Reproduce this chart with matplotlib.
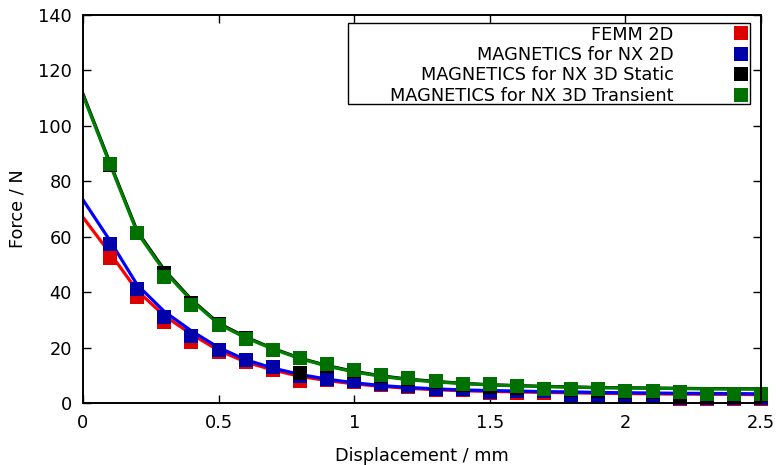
import matplotlib
matplotlib.use("Agg")
import matplotlib.pyplot as plt
from matplotlib.lines import Line2D
from matplotlib.patches import Rectangle
import numpy as np

# marker data (displacement in mm, force in N)
x_pts = [0.1, 0.2, 0.3, 0.4, 0.5, 0.6, 0.7, 0.8, 0.9, 1.0, 1.1, 1.2, 1.3,
         1.4, 1.5, 1.6, 1.7, 1.8, 1.9, 2.0, 2.1, 2.2, 2.3, 2.4, 2.5]
femm2d = [52.3, 38.3, 29.1, 22.0, 18.4, 14.8, 12.0, 8.0, 8.3, 7.4, 6.5, 5.6, 4.7,
          4.7, 3.7, 3.7, 3.7, 2.6, 2.7, 2.7, 2.7, 1.6, 1.6, 1.6, 1.6]
mag2d = [57.2, 41.1, 30.9, 24.0, 19.1, 15.5, 13.0, 9.6, 8.8, 7.8, 6.9, 6.0, 5.0,
         5.0, 4.0, 4.2, 4.2, 3.0, 3.0, 3.0, 3.0, 1.9, 1.9, 1.9, 1.9]
mag3d_static = [86.0, 61.5, 47.0, 36.0, 28.5, 23.3, 19.3, 10.8, 13.5, 11.5, 9.8, 8.8, 7.6,
                6.6, 5.8, 5.4, 4.9, 4.6, 4.3, 3.8, 3.8, 2.4, 2.8, 2.8, 2.8]
mag3d_trans = [86.2, 61.3, 45.5, 35.4, 28.1, 23.1, 19.1, 16.1, 14.0, 12.0, 10.1, 9.2, 8.0,
               7.0, 7.0, 6.0, 5.2, 5.2, 5.0, 4.2, 4.2, 4.1, 3.2, 3.2, 3.2]

# curve data
x_line = [0.0, 0.1, 0.2, 0.3, 0.4, 0.5, 0.6, 0.7, 0.8, 0.9, 1.0, 1.1, 1.2, 1.3,
          1.4, 1.5, 1.6, 1.7, 1.8, 1.9, 2.0, 2.1, 2.2, 2.3, 2.4, 2.5]
femm2d_line = [67.0, 54.0, 40.5, 31.5, 24.8, 19.0, 14.8, 11.9, 9.6, 8.1, 6.9, 6.0, 5.3, 4.8,
               4.4, 4.2, 4.0, 3.8, 3.7, 3.5, 3.4, 3.3, 3.2, 3.15, 3.1, 3.0]
mag2d_line = [73.3, 58.5, 42.6, 33.0, 26.0, 20.0, 15.6, 12.6, 10.3, 8.6, 7.3, 6.3, 5.6, 5.1,
              4.7, 4.5, 4.3, 4.1, 4.0, 3.8, 3.7, 3.6, 3.5, 3.45, 3.4, 3.3]
mag3d_static_line = [111.5, 86.5, 62.0, 48.0, 37.3, 28.8, 23.8, 19.7, 16.2, 13.5, 11.4, 9.8, 8.6,
                     7.8, 7.1, 6.6, 6.3, 6.0, 5.8, 5.6, 5.5, 5.4, 5.3, 5.2, 5.15, 5.1]
mag3d_trans_line = [111.0, 86.0, 61.5, 47.5, 37.0, 28.5, 23.5, 19.5, 16.0, 13.3, 11.2, 9.6, 8.4,
                    7.6, 7.0, 6.5, 6.2, 5.9, 5.7, 5.5, 5.4, 5.3, 5.2, 5.1, 5.05, 5.0]

labels = ["FEMM 2D", "MAGNETICS for NX 2D", "MAGNETICS for NX 3D Static",
          "MAGNETICS for NX 3D Transient"]
line_colors = ["#ff0000", "#0000ff", "#000000", "#008000"]
marker_colors = ["#dd0000", "#0000aa", "#000000", "#007000"]

FS = 12.8
plt.rcParams['font.family'] = ['DejaVu Sans']
W, H = 776, 465
fig = plt.figure(figsize=(W / 100, H / 100), dpi=100)
ax = fig.add_axes([83 / W, 62 / H, 678 / W, 388 / H])

series_pts = [femm2d, mag2d, mag3d_static, mag3d_trans]
series_lines = [femm2d_line, mag2d_line, mag3d_static_line, mag3d_trans_line]

for i in range(4):
    ax.plot(x_line, series_lines[i], color=line_colors[i], lw=2.3, zorder=2 + i * 0.1,
            solid_joinstyle='round')
for i in range(4):
    ax.plot(x_pts, series_pts[i], linestyle='none', marker='s', markersize=10.3,
            color=marker_colors[i], markeredgewidth=0, zorder=3 + i * 0.1, clip_on=False)

ax.set_xlim(0, 2.5)
ax.set_ylim(0, 140)
ax.set_xticks(np.arange(0, 2.51, 0.5))
ax.set_xticklabels(["0", "0.5", "1", "1.5", "2", "2.5"])
ax.set_yticks(np.arange(0, 141, 20))
ax.tick_params(axis='both', direction='in', top=True, right=True, length=6, width=1,
               labelsize=FS)
ax.tick_params(axis='x', pad=8)
ax.tick_params(axis='y', pad=8)
for s in ax.spines.values():
    s.set_linewidth(1.4)
    s.set_zorder(10)
ax.set_xlabel("Displacement / mm", fontsize=FS, labelpad=11)
ax.set_ylabel("Force / N", fontsize=FS, labelpad=8)

# legend frame
frame = Rectangle((348 / W, 1 - 104 / H), 402 / W, 81 / H, transform=fig.transFigure,
                  facecolor='white', edgecolor='black', lw=1.0, zorder=4)
ax.add_artist(frame)

handles = [Line2D([], [], linestyle='none', marker='s', markersize=10.3,
                  color=marker_colors[i], markeredgewidth=0) for i in range(4)]
leg = ax.legend(handles, labels, loc='upper right',
                bbox_to_anchor=((750 - 83) / 678, (403 - 25.5) / 388),
                markerfirst=False, frameon=False, fontsize=FS,
                borderpad=0, labelspacing=0.14, handletextpad=3.3,
                handlelength=1.0, borderaxespad=0)
leg.set_zorder(5)
for t in leg.get_texts():
    t.set_ha('right')

fig.savefig("out.png", dpi=100)
